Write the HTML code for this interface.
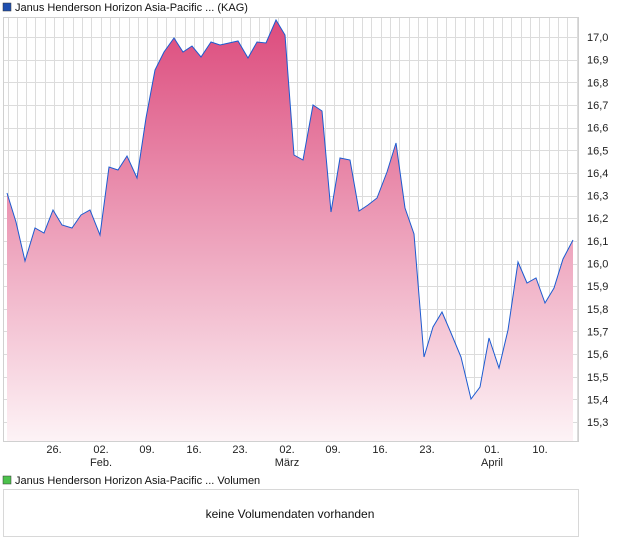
<!DOCTYPE html>
<html><head><meta charset="utf-8"><style>
body{margin:0;background:#fff;width:620px;height:546px;overflow:hidden;font-family:"Liberation Sans",sans-serif;}
</style></head><body>
<svg width="620" height="546" xmlns="http://www.w3.org/2000/svg" font-family="Liberation Sans, sans-serif">
<defs><linearGradient id="g" x1="0" y1="17" x2="0" y2="441" gradientUnits="userSpaceOnUse">
<stop offset="0" stop-color="#dc4a7c"/><stop offset="1" stop-color="#fdf3f6"/></linearGradient></defs>
<rect x="3" y="3" width="8" height="8" fill="#1f4fb0" stroke="#333" stroke-width="0.5"/>
<text x="15" y="11" font-size="11" fill="#111">Janus Henderson Horizon Asia-Pacific ... (KAG)</text>
<g stroke="#dcdcdc" stroke-width="1" id="grid"></g>
<rect x="3.5" y="17.5" width="575" height="424" fill="none" stroke="#d0d0d0"/>
<polygon id="area" fill="url(#g)"/>
<polyline id="line" fill="none" stroke="#1c5bd0" stroke-width="1"/>
<g font-size="11" fill="#222" id="yl"></g>
<g font-size="11" fill="#222" text-anchor="middle">
<text x="54" y="453">26.</text><text x="101" y="453">02.</text><text x="147" y="453">09.</text><text x="194" y="453">16.</text><text x="240" y="453">23.</text><text x="287" y="453">02.</text><text x="333" y="453">09.</text><text x="380" y="453">16.</text><text x="427" y="453">23.</text><text x="492" y="453">01.</text><text x="540" y="453">10.</text>
<text x="101" y="466">Feb.</text><text x="287" y="466">März</text><text x="492" y="466">April</text>
</g>
<rect x="3" y="476" width="8" height="8" fill="#4cc24c" stroke="#333" stroke-width="0.5"/>
<text x="15" y="484" font-size="11" fill="#111">Janus Henderson Horizon Asia-Pacific ... Volumen</text>
<rect x="3.5" y="489.5" width="575" height="47" fill="#fff" stroke="#d8d8d8"/>
<text x="290" y="518" font-size="12" fill="#111" text-anchor="middle">keine Volumendaten vorhanden</text>
</svg>
<script>
var ns="http://www.w3.org/2000/svg";
var g=document.getElementById('grid');
function ln(x1,y1,x2,y2){var l=document.createElementNS(ns,'line');l.setAttribute('x1',x1);l.setAttribute('y1',y1);l.setAttribute('x2',x2);l.setAttribute('y2',y2);g.appendChild(l);}
for(var x=7.5;x<578;x+=9.33)ln(Math.round(x)+.5,17,Math.round(x)+.5,441);
var yl=document.getElementById('yl');
for(var v=153;v<=170;v++){var y=37+(170-v)*22.65;ln(3,Math.round(y)+.5,578,Math.round(y)+.5);
var t=document.createElementNS(ns,'text');t.setAttribute('x',587);t.setAttribute('y',y+4);t.textContent=(v/10).toFixed(1).replace('.',',');yl.appendChild(t);}
var p=[[7,193],[16,222],[25,261],[35,228],[44,233],[53,210],[62,225],[72,228],[81,215],[90,210],[100,235],[109,167],[118,170],[127,156],[137,178],[146,118],[155,70],[164,52],[174,38],[183,52],[192,46],[201,57],[211,42],[220,45],[229,43],[238,41],[248,58],[257,42],[266,43],[276,20],[285,35],[294,155],[303,160],[313,105],[322,111],[331,212],[340,158],[350,160],[359,211],[368,205],[377,198],[387,172],[396,143],[405,208],[414,234],[424,357],[433,327],[442,312],[451,333],[461,357],[471,399],[480,387],[489,338],[499,368],[508,330],[518,262],[527,283],[536,278],[545,303],[554,288],[563,259],[573,240]];
var s=p.map(function(a){return a.join(',')}).join(' ');
document.getElementById('line').setAttribute('points',s);
document.getElementById('area').setAttribute('points','7,441 '+s+' 573,441');
</script>
</body></html>
